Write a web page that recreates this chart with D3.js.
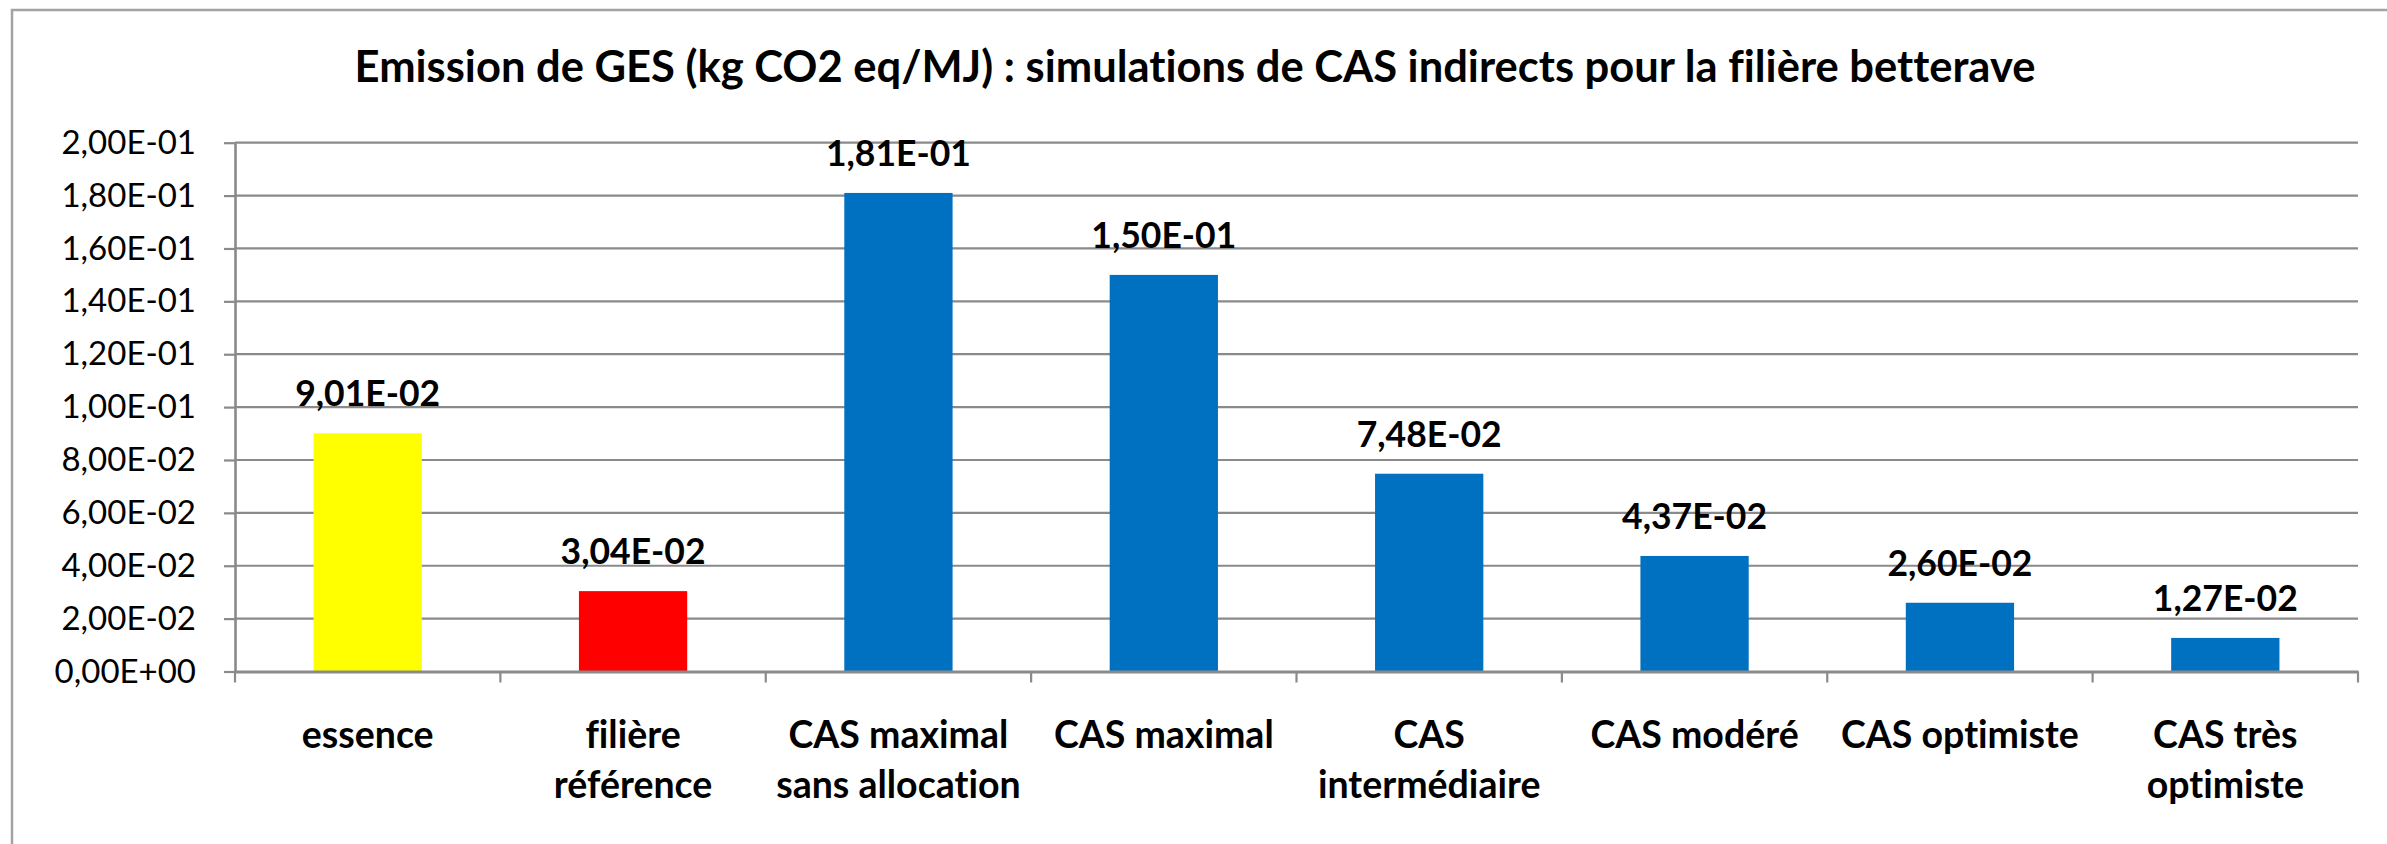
<!DOCTYPE html>
<html>
<head>
<meta charset="utf-8">
<script src="https://cdn.jsdelivr.net/npm/d3@7"></script>
<style>
  html, body { margin: 0; padding: 0; background: #fff; }
  svg { display: block; }
  text { font-variant-ligatures: none; }
</style>
</head>
<body>
<svg id="chart" width="2387" height="844"></svg>
<script>
// Emissions per scenario (kg CO2 eq / MJ)
const categories = [
  "essence",
  "filière\nréférence",
  "CAS maximal\nsans allocation",
  "CAS maximal",
  "CAS\nintermédiaire",
  "CAS modéré",
  "CAS optimiste",
  "CAS très\noptimiste"
];
const values = [0.0901, 0.0304, 0.181, 0.150, 0.0748, 0.0437, 0.0260, 0.0127];
const barColors = ["#FFFF00", "#FF0000", "#0070C0", "#0070C0", "#0070C0", "#0070C0", "#0070C0", "#0070C0"];
const yTicks = [0, 0.02, 0.04, 0.06, 0.08, 0.10, 0.12, 0.14, 0.16, 0.18, 0.20];
const yTickLabels = ["0,00E+00", "2,00E-02", "4,00E-02", "6,00E-02", "8,00E-02", "1,00E-01",
                     "1,20E-01", "1,40E-01", "1,60E-01", "1,80E-01", "2,00E-01"];
const title = "Emission de GES (kg CO2 eq/MJ) : simulations de CAS indirects pour la filière betterave";

// French scientific notation, e.g. 0.0901 -> "9,01E-02"
function sci(v) {
  const [m, e] = v.toExponential(2).split("e");
  const n = parseInt(e, 10);
  const exp = (n < 0 ? "-" : "+") + String(Math.abs(n)).padStart(2, "0");
  return m.replace(".", ",") + "E" + exp;
}

const svg = d3.select("#chart");
const W = 2387, H = 844;
const plot = { left: 235, right: 2358, top: 142.7, bottom: 671.5 };
const FONT = "Lato, 'Open Sans', sans-serif";
const GRID = "#8a8a8a";

// chart area frame
svg.append("rect")
  .attr("x", 12).attr("y", 10)
  .attr("width", W).attr("height", H)
  .attr("fill", "#fff")
  .attr("stroke", "#a3a3a3")
  .attr("stroke-width", 2.5);

svg.append("text")
  .attr("x", 1195).attr("y", 82)
  .attr("text-anchor", "middle")
  .attr("font-family", FONT)
  .attr("font-weight", 700)
  .attr("font-size", 43.5)
  .attr("fill", "#000")
  .text(title);

const x = d3.scaleBand()
  .domain(categories)
  .range([plot.left, plot.right])
  .paddingInner(0.592)
  .paddingOuter(0.296);

const y = d3.scaleLinear()
  .domain([0, 0.2])
  .range([plot.bottom, plot.top]);

// horizontal gridlines
svg.append("g")
  .selectAll("line")
  .data(yTicks.filter(t => t > 0))
  .join("line")
  .attr("x1", plot.left).attr("x2", plot.right)
  .attr("y1", d => y(d)).attr("y2", d => y(d))
  .attr("stroke", GRID)
  .attr("stroke-width", 2.2);

// y axis
const yAxis = svg.append("g")
  .attr("transform", `translate(${plot.left},0)`)
  .call(d3.axisLeft(y)
    .tickValues(yTicks)
    .tickFormat((d, i) => yTickLabels[i])
    .tickSize(11)
    .tickSizeOuter(0)
    .tickPadding(28));
yAxis.select(".domain").attr("stroke", GRID).attr("stroke-width", 2.6);
yAxis.selectAll(".tick line").attr("stroke", GRID).attr("stroke-width", 2.2);
yAxis.selectAll(".tick text")
  .attr("font-family", FONT)
  .attr("font-size", 33)
  .attr("fill", "#000");

// bars
svg.append("g")
  .selectAll("rect")
  .data(values)
  .join("rect")
  .attr("x", (d, i) => x(categories[i]))
  .attr("width", x.bandwidth())
  .attr("y", d => y(d))
  .attr("height", d => y(0) - y(d))
  .attr("fill", (d, i) => barColors[i]);

// data labels
svg.append("g")
  .selectAll("text")
  .data(values)
  .join("text")
  .attr("x", (d, i) => x(categories[i]) + x.bandwidth() / 2)
  .attr("y", d => y(d) - 27)
  .attr("text-anchor", "middle")
  .attr("font-family", FONT)
  .attr("font-weight", 700)
  .attr("font-size", 35.5)
  .attr("fill", "#000")
  .text(d => sci(d));

// x axis: line with tick marks between categories
const xAxis = svg.append("g")
  .attr("transform", `translate(0,${plot.bottom})`)
  .call(d3.axisBottom(x).tickSize(0).tickSizeOuter(0).tickFormat(""));
xAxis.select(".domain").attr("stroke", GRID).attr("stroke-width", 2.8);
xAxis.selectAll(".tick").remove();

const bounds = d3.range(categories.length + 1).map(i => x.range()[0] + i * x.step());
xAxis.append("g")
  .selectAll("line")
  .data(bounds)
  .join("line")
  .attr("x1", d => d).attr("x2", d => d)
  .attr("y1", 0).attr("y2", 11)
  .attr("stroke", GRID)
  .attr("stroke-width", 2.2);

// category labels, one tspan per line
const catLabels = svg.append("g")
  .selectAll("text")
  .data(categories)
  .join("text")
  .attr("text-anchor", "middle")
  .attr("font-family", FONT)
  .attr("font-weight", 700)
  .attr("font-size", 37.5)
  .attr("fill", "#000");
catLabels.selectAll("tspan")
  .data(d => d.split("\n").map(line => ({ line, cat: d })))
  .join("tspan")
  .attr("x", d => x(d.cat) + x.bandwidth() / 2)
  .attr("y", (d, i) => 748 + i * 50)
  .text(d => d.line);
</script>
</body>
</html>
